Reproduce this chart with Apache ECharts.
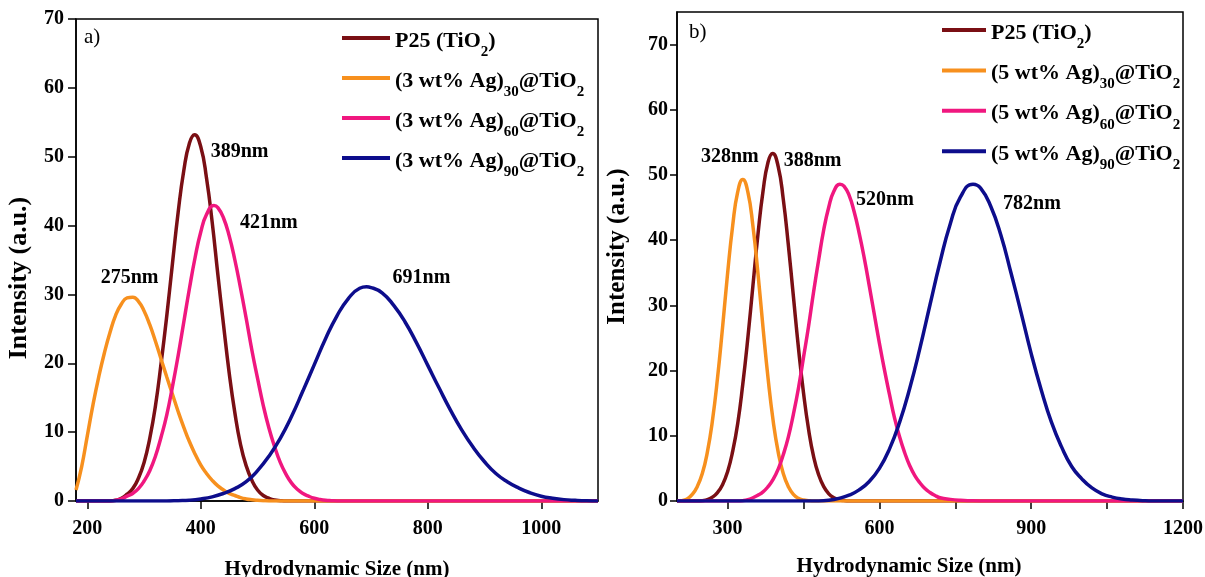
<!DOCTYPE html>
<html>
<head>
<meta charset="utf-8">
<script src="https://cdn.jsdelivr.net/npm/echarts@6/dist/echarts.min.js"></script>
<style>html,body{margin:0;padding:0;background:#fff}#c{width:1205px;height:577px}</style>
</head>
<body>
<div id="c"></div>
<script>
// ---------- data ----------
const xTicksA = [200, 400, 600, 800, 1000];
const yTicksA = [0, 10, 20, 30, 40, 50, 60, 70];
const xTicksB = [300, 600, 900, 1200];
const xMinorB = [300, 450, 600, 750, 900, 1050, 1200];
const yTicksB = [0, 10, 20, 30, 40, 50, 60, 70];

const namesA = ['P25 (TiO2) a', '(3 wt% Ag)30@TiO2', '(3 wt% Ag)60@TiO2', '(3 wt% Ag)90@TiO2'];
const namesB = ['P25 (TiO2) b', '(5 wt% Ag)30@TiO2', '(5 wt% Ag)60@TiO2', '(5 wt% Ag)90@TiO2'];

// [size nm, intensity]
const aP25 = [[180,0],[240,0],[250,0.1],[260,0.4],[270,1.0],[280,1.8],[290,3.3],[300,5.6],[310,9.1],[320,13.8],[330,20.0],[340,26.9],[350,34.5],[360,41.9],[370,48.0],[380,52.0],[389,53.2],[400,51.4],[410,46.9],[420,40.5],[430,32.9],[440,25.6],[450,18.6],[460,12.8],[470,8.2],[480,5.1],[490,3.0],[500,1.6],[510,0.8],[520,0.4],[530,0.15],[540,0.05],[550,0],[600,0],[1100,0]];
const aAg30 = [[180,1.6],[190,5],[200,9.5],[210,14],[220,18],[230,21.5],[240,24.5],[250,27],[260,28.6],[270,29.5],[280,29.6],[290,29],[300,27.6],[310,25.6],[320,23.2],[330,20.6],[340,18],[350,15.5],[360,13],[370,10.7],[380,8.6],[390,6.8],[400,5.2],[410,4],[420,3],[430,2.2],[440,1.6],[450,1.1],[460,0.8],[470,0.5],[480,0.3],[490,0.18],[500,0.1],[510,0.04],[520,0],[560,0],[1100,0]];
const aAg60 = [[180,0],[240,0],[250,0.1],[260,0.3],[270,0.7],[280,1.1],[290,1.8],[300,2.9],[310,4.4],[320,6.5],[330,9.3],[340,12.5],[350,16.6],[360,21.1],[370,26.0],[380,30.9],[390,35.4],[400,39.1],[410,41.6],[423,42.9],[430,42.6],[440,41.1],[450,38.5],[460,35.0],[470,30.9],[480,26.5],[490,21.9],[500,17.8],[510,13.9],[520,10.6],[530,7.9],[540,5.6],[550,3.9],[560,2.6],[570,1.7],[580,1.1],[590,0.7],[600,0.4],[610,0.22],[620,0.1],[630,0.04],[640,0],[700,0],[1100,0]];
const aAg90 = [[180,0],[340,0],[360,0.05],[380,0.12],[400,0.3],[420,0.6],[440,1.1],[460,1.8],[480,2.8],[500,4.4],[520,6.5],[540,9.1],[560,12.3],[580,16.0],[600,19.8],[620,23.6],[640,26.9],[660,29.4],[680,30.9],[692,31.1],[700,31.0],[720,30.2],[740,28.4],[760,26.0],[780,23.0],[800,19.7],[820,16.4],[840,13.2],[860,10.3],[880,7.8],[900,5.7],[920,4.0],[940,2.8],[960,1.9],[980,1.2],[1000,0.7],[1020,0.4],[1040,0.2],[1060,0.1],[1080,0.03],[1100,0]];

const bP25 = [[200,0],[240,0],[250,0.05],[260,0.2],[270,0.6],[280,1.3],[290,2.5],[300,4.5],[310,7.6],[320,11.9],[330,17.9],[340,25.0],[350,33.0],[360,40.9],[370,47.5],[380,52.0],[389,53.3],[400,51.3],[410,46.3],[420,39.3],[430,31.4],[440,23.5],[450,16.6],[460,11.0],[470,6.8],[480,4.0],[490,2.2],[500,1.1],[510,0.5],[520,0.2],[530,0.06],[540,0],[600,0],[1200,0]];
const bAg30 = [[200,0],[210,0.05],[220,0.3],[230,1.0],[240,2.2],[250,4.2],[260,7.5],[270,12.3],[280,18.8],[290,26.6],[300,34.9],[310,42.2],[320,47.4],[330,49.3],[340,47.4],[350,42.2],[360,34.9],[370,26.6],[380,18.8],[390,12.3],[400,7.5],[410,4.2],[420,2.2],[430,1.0],[440,0.4],[450,0.15],[460,0.05],[470,0],[520,0],[1200,0]];
const bAg60 = [[200,0],[320,0],[330,0.05],[340,0.2],[350,0.5],[360,0.9],[370,1.4],[380,2.2],[390,3.3],[400,4.9],[410,7.1],[420,9.8],[430,13.3],[440,17.3],[450,22.0],[460,26.8],[470,32.1],[480,37.0],[490,41.6],[500,45.1],[510,47.5],[522,48.6],[530,48.3],[540,46.9],[550,44.4],[560,41.1],[570,37.3],[580,33.0],[590,28.6],[600,24.2],[610,20.1],[620,16.3],[630,12.7],[640,9.8],[650,7.4],[660,5.4],[670,3.9],[680,2.8],[690,1.9],[700,1.3],[710,0.85],[720,0.5],[740,0.25],[760,0.1],[780,0.03],[800,0],[860,0],[1200,0]];
const bAg90 = [[200,0],[480,0],[500,0.1],[520,0.4],[540,0.9],[560,1.7],[580,3.0],[600,5.0],[620,8.0],[640,12.1],[660,17.3],[680,23.4],[700,30.1],[720,36.7],[740,42.5],[760,46.6],[785,48.6],[800,48.0],[820,45.2],[840,40.8],[860,35.0],[880,28.9],[900,22.6],[920,17.0],[940,12.1],[960,8.3],[980,5.3],[1000,3.4],[1020,2.0],[1040,1.1],[1060,0.6],[1080,0.3],[1100,0.15],[1120,0.05],[1140,0],[1200,0]];

// peak annotations [x, y, text]
const peaksA = [[389, 53.2, '389nm'], [278, 29.6, '275nm'], [423, 42.9, '421nm'], [692, 31.1, '691nm']];
const peaksB = [[389, 53.3, '388nm'], [330, 49.3, '328nm'], [522, 48.6, '520nm'], [785, 48.6, '782nm']];

// ---------- styling ----------
const FONT = 'Liberation Serif';
const colors = ['#7a0f14', '#f7901e', '#f0177f', '#0d0d8c'];
const offsetsA = [[45, 17], [-2, -19], [55, 17], [55, -9]];
const offsetsB = [[40, 7], [-13, -23], [45, 16], [59, 20]];

const legendRich = {
  m: {fontFamily: FONT, fontWeight: 'bold', fontSize: 22, color: '#000', lineHeight: 30, height: 36, verticalAlign: 'top'},
  s: {fontFamily: FONT, fontWeight: 'bold', fontSize: 15, color: '#000', lineHeight: 30, height: 58, verticalAlign: 'top'}
};
function legendText(name) {
  if (name.indexOf('P25') === 0) return '{m|P25 (TiO}{s|2}{m|)}';
  const m = name.match(/^\((\d) wt% Ag\)(\d+)@TiO2$/);
  return '{m|(' + m[1] + ' wt% Ag)}{s|' + m[2] + '}{m|@TiO}{s|2}';
}

const allData = [[aP25, aAg30, aAg60, aAg90], [bP25, bAg30, bAg60, bAg90]];
const allNames = [namesA, namesB];
const allPeaks = [peaksA, peaksB];
const allOffsets = [offsetsA, offsetsB];

const series = [];
for (let p = 0; p < 2; p++) {
  for (let i = 0; i < 4; i++) {
    const pk = allPeaks[p][i];
    series.push({
      type: 'line',
      name: allNames[p][i],
      xAxisIndex: p, yAxisIndex: p,
      data: allData[p][i],
      showSymbol: false,
      smooth: 0.5,
      lineStyle: {width: 3.5, color: colors[i]},
      itemStyle: {color: colors[i]},
      emphasis: {disabled: true},
      markPoint: {
        symbol: 'circle', symbolSize: 0, silent: true,
        label: {show: true, position: 'inside', color: '#000', fontFamily: FONT, fontWeight: 'bold', fontSize: 20},
        data: [{coord: [pk[0], pk[1]], value: pk[2], label: {formatter: pk[2], offset: allOffsets[p][i]}}]
      }
    });
  }
}

const axisLabelStyle = {color: '#000', fontFamily: FONT, fontWeight: 'bold', fontSize: 20, formatter: v => String(v)};
const nameStyle = {color: '#000', fontFamily: FONT, fontWeight: 'bold', fontSize: 21};
const lineBlack = {show: true, lineStyle: {color: '#000', width: 1.5}};
const tickStyle = {color: '#000', width: 1.5};

const option = {
  animation: false,
  backgroundColor: '#fff',
  title: [
    {text: 'a)', left: 84, top: 27, padding: 0, textStyle: {fontFamily: FONT, fontWeight: 'normal', fontSize: 21, color: '#000'}},
    {text: 'b)', left: 689, top: 22, padding: 0, textStyle: {fontFamily: FONT, fontWeight: 'normal', fontSize: 21, color: '#000'}}
  ],
  legend: [
    {data: namesA, orient: 'vertical', left: 342, top: 23, padding: 0, itemWidth: 48, itemHeight: 4, itemGap: -18, icon: 'rect',
     formatter: legendText, textStyle: {rich: legendRich}, selectedMode: false},
    {data: namesB, orient: 'vertical', left: 942, top: 15, padding: 0, itemWidth: 44, itemHeight: 4, itemGap: -17.6, icon: 'rect',
     formatter: legendText, textStyle: {rich: legendRich}, selectedMode: false}
  ],
  grid: [
    {left: 76, right: 607, top: 19, bottom: 76, outerBoundsMode: 'none', containLabel: false, show: true, borderColor: '#000', borderWidth: 1.5, backgroundColor: 'transparent'},
    {left: 677, right: 22, top: 12, bottom: 76, outerBoundsMode: 'none', containLabel: false, show: true, borderColor: '#000', borderWidth: 1.5, backgroundColor: 'transparent'}
  ],
  xAxis: [
    {type: 'value', gridIndex: 0, min: 180, max: 1100,
     name: 'Hydrodynamic Size (nm)', nameLocation: 'middle', nameGap: 58, nameMoveOverlap: false, nameTextStyle: nameStyle,
     axisLine: lineBlack, splitLine: {show: false},
     axisTick: {show: true, length: 8, lineStyle: tickStyle, customValues: xTicksA},
     axisLabel: Object.assign({margin: 18, customValues: xTicksA}, axisLabelStyle)},
    {type: 'value', gridIndex: 1, min: 200, max: 1200,
     name: 'Hydrodynamic Size (nm)', nameLocation: 'middle', nameGap: 55, nameMoveOverlap: false, nameTextStyle: Object.assign({padding: [0, 42, 0, 0]}, nameStyle),
     axisLine: lineBlack, splitLine: {show: false},
     axisTick: {show: true, length: 8, lineStyle: tickStyle, customValues: xMinorB},
     axisLabel: Object.assign({margin: 18, customValues: xTicksB}, axisLabelStyle)}
  ],
  yAxis: [
    {type: 'value', gridIndex: 0, min: 0, max: 70,
     name: 'Intensity (a.u.)', nameLocation: 'middle', nameGap: 44, nameMoveOverlap: false, nameTextStyle: Object.assign({padding: [0, 36, 0, 0]}, nameStyle, {fontSize: 26}),
     axisLine: lineBlack, splitLine: {show: false},
     axisTick: {show: true, length: 8, lineStyle: tickStyle, customValues: yTicksA},
     axisLabel: Object.assign({margin: 12, customValues: yTicksA}, axisLabelStyle)},
    {type: 'value', gridIndex: 1, min: 0, max: 75,
     name: 'Intensity (a.u.)', nameLocation: 'middle', nameGap: 47, nameMoveOverlap: false, nameTextStyle: Object.assign({padding: [0, 0, 0, 20]}, nameStyle, {fontSize: 25}),
     axisLine: lineBlack, splitLine: {show: false},
     axisTick: {show: true, length: 7, lineStyle: tickStyle, customValues: yTicksB},
     axisLabel: Object.assign({margin: 9, customValues: yTicksB}, axisLabelStyle)}
  ],
  series: series
};

const chart = echarts.init(document.getElementById('c'), null, {renderer: 'canvas'});
chart.setOption(option);
</script>
</body>
</html>
